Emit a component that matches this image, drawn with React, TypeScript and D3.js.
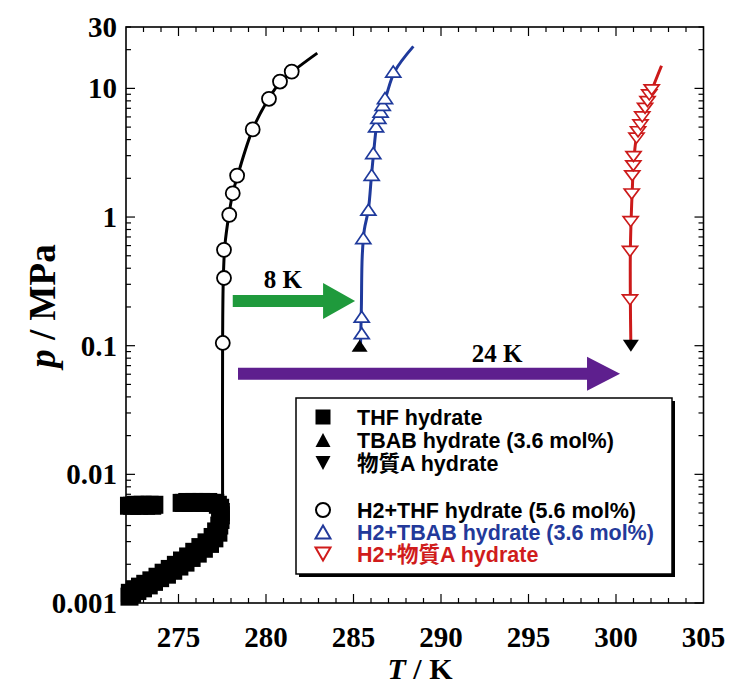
import React from "react";
import * as d3 from "d3";

// ---- data (T in K, p in MPa) ----
const xTicks = [275, 280, 285, 290, 295, 300, 305];
const yTicks = [0.001, 0.01, 0.1, 1, 10, 30];
const yTickLabels = ["0.001", "0.01", "0.1", "1", "10", "30"];

// THF hydrate (filled squares, dense)
const thfUpperBand: [number, number][] = [
  [272.17, 0.0057], [272.35, 0.0057], [272.55, 0.0058], [272.75, 0.0057], [272.95, 0.0058],
  [273.15, 0.0057], [273.35, 0.0058], [273.5, 0.0057], [273.62, 0.0058],
  [275.18, 0.006], [275.3, 0.006], [275.5, 0.0061], [275.7, 0.006], [275.9, 0.0061],
  [276.1, 0.006], [276.3, 0.0061], [276.5, 0.006], [276.7, 0.0061], [276.9, 0.006],
  [277.1, 0.006], [277.25, 0.0058], [277.38, 0.0055], [277.42, 0.0051],
];
const thfLowerBand: [number, number][] = [
  [272.2, 0.00112], [272.22, 0.0012], [272.35, 0.00118], [272.5, 0.00128], [272.65, 0.00124],
  [272.8, 0.00134], [272.97, 0.0013], [273.1, 0.00141], [273.3, 0.00137], [273.45, 0.0015],
  [273.6, 0.00146], [273.8, 0.0016], [273.95, 0.00156], [274.15, 0.00172], [274.34, 0.00166],
  [274.5, 0.00184], [274.7, 0.00178], [274.85, 0.00198], [275.05, 0.00192], [275.2, 0.00214],
  [275.4, 0.00206], [275.55, 0.0023], [275.75, 0.00224], [275.9, 0.0025], [276.1, 0.00242],
  [276.25, 0.00272], [276.45, 0.00264], [276.6, 0.00296], [276.8, 0.00288], [276.95, 0.00326],
  [277.05, 0.00318], [277.15, 0.0036], [277.28, 0.00352], [277.33, 0.004], [277.4, 0.00442],
  [277.42, 0.0048],
];

// TBAB hydrate (filled up-triangle) and 物質A hydrate (filled down-triangle)
const tbabHydrate: [number, number][] = [[285.35, 0.1]];
const substAHydrate: [number, number][] = [[300.85, 0.1]];

// H2 + THF hydrate (open circles)
const h2ThfPoints: [number, number][] = [
  [277.53, 0.105], [277.6, 0.336], [277.6, 0.556], [277.9, 1.04], [278.1, 1.53],
  [278.35, 2.1], [279.24, 4.8], [280.17, 8.3], [280.8, 11.3], [281.47, 13.5],
];
const h2ThfCurve: [number, number][] = [
  [277.52, 0.0055], [277.52, 0.1], [277.56, 0.33], [277.65, 0.6], [277.88, 1.04], [278.1, 1.53],
  [278.4, 2.15], [279.24, 4.8], [280.15, 8.3], [280.85, 11.3], [281.6, 13.8], [282.93, 18.8],
];

// H2 + TBAB hydrate (open blue up-triangles)
const h2TbabPoints: [number, number][] = [
  [285.47, 0.125], [285.47, 0.168], [285.56, 0.686], [285.85, 1.14], [286.04, 2.13],
  [286.13, 3.14], [286.29, 5.06], [286.42, 5.9], [286.55, 6.6], [286.67, 7.45],
  [286.8, 8.4], [287.27, 13.5],
];
const h2TbabCurve: [number, number][] = [
  [285.4, 0.1], [285.45, 0.2], [285.5, 0.5], [285.62, 0.8], [285.85, 1.14], [286.03, 2.13],
  [286.15, 3.14], [286.32, 5.06], [286.58, 6.8], [286.85, 8.6], [287.35, 13.5], [288.42, 21.2],
];

// H2 + 物質A hydrate (open red down-triangles)
const h2SubstAPoints: [number, number][] = [
  [300.8, 0.227], [300.8, 0.54], [300.84, 0.92], [300.9, 1.51], [300.93, 2.09],
  [300.99, 2.5], [301.0, 2.95], [301.17, 4.1], [301.26, 4.6], [301.4, 5.2],
  [301.5, 6.0], [301.66, 7.0], [301.8, 7.9], [301.9, 8.9], [302.04, 9.75],
];
const h2SubstACurve: [number, number][] = [
  [300.85, 0.1], [300.82, 0.227], [300.82, 0.54], [300.86, 0.92], [300.92, 1.51],
  [301.0, 2.5], [301.15, 4.0], [301.45, 5.6], [301.8, 7.9], [302.05, 9.75], [302.6, 15],
];

// annotations: arrows [T start, T tip, p], labels [T, p]
const greenArrow = { t0: 278.1, t1: 285.09, p: 0.223 };
const purpleArrow = { t0: 278.4, t1: 300.23, p: 0.0604 };
const greenLabel = { text: "8 K", t: 280.97, p: 0.28 };
const purpleLabel = { text: "24 K", t: 293.2, p: 0.0748 };

const legendItems = [
  { label: "THF hydrate", sym: "square", color: "#000" },
  { label: "TBAB hydrate (3.6 mol%)", sym: "triUpFill", color: "#000" },
  { label: "物質A hydrate", sym: "triDownFill", color: "#000" },
  { label: "H2+THF hydrate (5.6 mol%)", sym: "circle", color: "#000" },
  { label: "H2+TBAB hydrate (3.6 mol%)", sym: "triUpOpen", color: "#23399a" },
  { label: "H2+物質A hydrate", sym: "triDownOpen", color: "#d01c1c" },
];

// ---- layout ----
const W = 729, H = 685;
const L = 126, R = 703.5, T = 27, B = 603;
const BLUE = "#1f3a9c";
const RED = "#cc1a1a";
const serif = "'Liberation Serif', 'Times New Roman', serif";
const sans = "'Liberation Sans', Arial, 'Noto Sans CJK JP', sans-serif";

function triUp(cx: number, cy: number, w: number, h: number) {
  return `M${cx - w / 2},${cy + h / 2}L${cx + w / 2},${cy + h / 2}L${cx},${cy - h / 2}Z`;
}
function triDown(cx: number, cy: number, w: number, h: number) {
  return `M${cx - w / 2},${cy - h / 2}L${cx + w / 2},${cy - h / 2}L${cx},${cy + h / 2}Z`;
}
function arrowPath(x0: number, x1: number, yc: number, body: number, headLen: number, headHalf: number) {
  const xh = x1 - headLen;
  return `M${x0},${yc - body / 2}L${xh},${yc - body / 2}L${xh},${yc - headHalf}L${x1},${yc}L${xh},${yc + headHalf}L${xh},${yc + body / 2}L${x0},${yc + body / 2}Z`;
}

export default function App() {
  const x = d3.scaleLinear().domain([272, 305]).range([L, R]);
  const y = d3.scaleLog().domain([0.001, 30]).range([B, T]);
  const line = d3
    .line<[number, number]>()
    .x((d) => x(d[0]))
    .y((d) => y(d[1]))
    .curve(d3.curveCatmullRom.alpha(0.5));

  const xMinor = d3.range(273, 305, 1);
  const yMinor: number[] = [];
  [0.001, 0.01, 0.1, 1, 10].forEach((dec) => {
    for (let k = 2; k <= 9; k++) {
      const v = dec * k;
      if (v <= 30) yMinor.push(v);
    }
  });
  const yMajor = yTicks.slice(0, 5);

  const sq = 18;
  const thfAll = [...thfUpperBand, ...thfLowerBand];

  const legX = 296, legY = 398, legW = 376, legH = 176;
  const legRows = [425, 448, 471, 518, 540, 562];

  return (
    <svg width={W} height={H} style={{ position: "absolute", left: 0, top: 0, background: "#fff" }}>
      <rect x={0} y={0} width={W} height={H} fill="#fff" />
      {/* ticks */}
      <g stroke="#000" strokeWidth={1.2}>
        {xMinor.map((t) => {
          const len = t % 5 === 0 ? 9 : 5;
          return (
            <g key={"xt" + t}>
              <line x1={x(t)} x2={x(t)} y1={B} y2={B - len} />
              <line x1={x(t)} x2={x(t)} y1={T} y2={T + len} />
            </g>
          );
        })}
        {yMinor.map((v, i) => (
          <g key={"ym" + i}>
            <line x1={L} x2={L + 5} y1={y(v)} y2={y(v)} />
            <line x1={R} x2={R - 5} y1={y(v)} y2={y(v)} />
          </g>
        ))}
        {yMajor.map((v, i) => (
          <g key={"yM" + i}>
            <line x1={L} x2={L + 9} y1={y(v)} y2={y(v)} />
            <line x1={R} x2={R - 9} y1={y(v)} y2={y(v)} />
          </g>
        ))}
      </g>
      <rect x={L} y={T} width={R - L} height={B - T} fill="none" stroke="#000" strokeWidth={1.6} />

      {/* tick labels */}
      <g fontFamily={serif} fontWeight="bold" fontSize={29} fill="#000">
        {xTicks.map((t) => (
          <text key={"xl" + t} x={x(t)} y={647} textAnchor="middle">
            {t}
          </text>
        ))}
        {yTicks.map((v, i) => (
          <text key={"yl" + i} x={117} y={y(v) + 10} textAnchor="end">
            {yTickLabels[i]}
          </text>
        ))}
      </g>
      {/* axis titles */}
      <text x={420} y={679} textAnchor="middle" fontFamily={serif} fontWeight="bold" fontSize={30}>
        <tspan fontStyle="italic">T</tspan> / K
      </text>
      <text
        transform={`translate(55,306) rotate(-90)`}
        textAnchor="middle"
        fontFamily={serif}
        fontWeight="bold"
        fontSize={37}
      >
        <tspan fontStyle="italic">p</tspan> / MPa
      </text>

      {/* THF hydrate squares */}
      <g fill="#000">
        {thfAll.map((d, i) => (
          <rect key={"sq" + i} x={x(d[0]) - sq / 2} y={y(d[1]) - sq / 2} width={sq} height={sq} />
        ))}
      </g>

      {/* curves */}
      <path d={line(h2ThfCurve) || ""} fill="none" stroke="#000" strokeWidth={3} />
      <path d={line(h2TbabCurve) || ""} fill="none" stroke={BLUE} strokeWidth={3} />
      <path d={line(h2SubstACurve) || ""} fill="none" stroke={RED} strokeWidth={3} />

      {/* markers */}
      {h2ThfPoints.map((d, i) => (
        <circle key={"c" + i} cx={x(d[0])} cy={y(d[1])} r={7} fill="#fff" stroke="#000" strokeWidth={1.8} />
      ))}
      {h2TbabPoints.map((d, i) => (
        <path key={"tb" + i} d={triUp(x(d[0]), y(d[1]), 15, 11)} fill="#fff" stroke={BLUE} strokeWidth={1.7} />
      ))}
      {h2SubstAPoints.map((d, i) => (
        <path key={"ta" + i} d={triDown(x(d[0]), y(d[1]), 15, 10)} fill="#fff" stroke={RED} strokeWidth={1.7} />
      ))}
      {tbabHydrate.map((d, i) => (
        <path key={"ft" + i} d={triUp(x(d[0]), y(d[1]), 16, 12)} fill="#000" />
      ))}
      {substAHydrate.map((d, i) => (
        <path key={"fd" + i} d={triDown(x(d[0]), y(d[1]), 16, 12)} fill="#000" />
      ))}

      {/* arrows */}
      <path d={arrowPath(x(greenArrow.t0), x(greenArrow.t1), y(greenArrow.p), 12, 32, 18)} fill="#1f9a3c" />
      <path d={arrowPath(x(purpleArrow.t0), x(purpleArrow.t1), y(purpleArrow.p), 12, 33, 17)} fill="#5e1f8e" />
      <g fontFamily={serif} fontWeight="bold" fontSize={25} fill="#000" textAnchor="middle">
        <text x={x(greenLabel.t)} y={y(greenLabel.p)}>{greenLabel.text}</text>
        <text x={x(purpleLabel.t)} y={y(purpleLabel.p)}>{purpleLabel.text}</text>
      </g>

      {/* legend */}
      <rect x={legX + 3} y={legY + 3} width={legW} height={legH} fill="#000" />
      <rect x={legX} y={legY} width={legW} height={legH} fill="#fff" stroke="#000" strokeWidth={1.5} />
      <g fontFamily={sans} fontWeight="bold" fontSize={21.5}>
        {legendItems.map((it, i) => {
          const cy = legRows[i] - 8;
          const cx = 323;
          let sym: React.ReactNode = null;
          if (it.sym === "square") sym = <rect x={cx - 7.5} y={cy - 7.5} width={15} height={15} fill="#000" />;
          else if (it.sym === "triUpFill") sym = <path d={triUp(cx, cy, 15, 14)} fill="#000" />;
          else if (it.sym === "triDownFill") sym = <path d={triDown(cx, cy, 15, 14)} fill="#000" />;
          else if (it.sym === "circle") sym = <circle cx={cx} cy={cy} r={7} fill="#fff" stroke="#000" strokeWidth={2} />;
          else if (it.sym === "triUpOpen") sym = <path d={triUp(cx, cy, 15, 13)} fill="#fff" stroke={it.color} strokeWidth={2} />;
          else sym = <path d={triDown(cx, cy, 15, 13)} fill="#fff" stroke={it.color} strokeWidth={2} />;
          return (
            <g key={"lg" + i}>
              {sym}
              <text x={357} y={legRows[i]} fill={it.color}>
                {it.label}
              </text>
            </g>
          );
        })}
      </g>
    </svg>
  );
}
